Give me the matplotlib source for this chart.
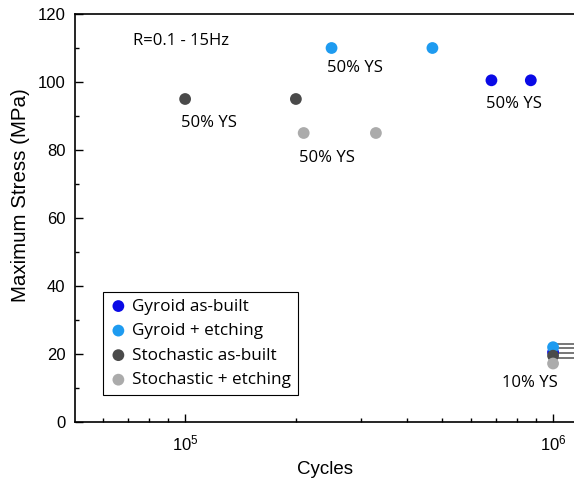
import matplotlib
matplotlib.use("Agg")
import matplotlib.pyplot as plt
from matplotlib.ticker import LogLocator, MultipleLocator, NullFormatter

# Data
series_names = ["Gyroid as-built", "Gyroid + etching", "Stochastic as-built", "Stochastic + etching"]
series_colors = ["#0a0ae6", "#1e9bf0", "#4a4a4a", "#ababab"]
gyroid_built_cycles = [6.8e5, 8.7e5, 1e6]
gyroid_built_stress = [100.5, 100.5, 20.5]
gyroid_etch_cycles = [2.5e5, 4.7e5, 1e6]
gyroid_etch_stress = [110, 110, 22]
stoch_built_cycles = [1e5, 2.0e5, 1e6]
stoch_built_stress = [95, 95, 19.5]
stoch_etch_cycles = [2.1e5, 3.3e5, 1e6]
stoch_etch_stress = [85, 85, 17.2]
runout_levels = [23.0, 21.7, 20.3, 18.8]

annotations = [
    ("50% YS", 1.16e5, 88),
    ("50% YS", 2.9e5, 104),
    ("50% YS", 7.83e5, 93.5),
    ("50% YS", 2.43e5, 77.6),
    ("10% YS", 8.65e5, 11.5),
]

plt.rcParams['font.family'] = ['Liberation Sans', 'DejaVu Sans']
ann_family = ['Open Sans', 'DejaVu Sans']

fig = plt.figure(figsize=(5.74, 4.82), dpi=100)
ax = fig.add_axes([75/574, 60/482, 1 - 75/574, (422-14)/482])

xs = [gyroid_built_cycles, gyroid_etch_cycles, stoch_built_cycles, stoch_etch_cycles]
ys = [gyroid_built_stress, gyroid_etch_stress, stoch_built_stress, stoch_etch_stress]
for x, y, c, n in zip(xs, ys, series_colors, series_names):
    ax.scatter(x, y, s=72, color=c, label=n, edgecolors='none', zorder=3)

for lv in runout_levels:
    ax.plot([1.02e6, 1.2e6], [lv, lv], color="#606060", lw=1.2, zorder=2)

ax.set_xscale('log')
ax.set_xlim(5.02e4, 1.14e6)
ax.set_ylim(0, 120)
ax.yaxis.set_major_locator(MultipleLocator(20))
ax.yaxis.set_minor_locator(MultipleLocator(10))
ax.xaxis.set_major_locator(LogLocator(base=10, numticks=10))
ax.xaxis.set_minor_locator(LogLocator(base=10, subs=range(2, 10), numticks=20))
ax.xaxis.set_minor_formatter(NullFormatter())
ax.tick_params(which='both', direction='in', labelsize=12, width=1)
ax.tick_params(which='major', length=6)
ax.tick_params(which='minor', length=3)
ax.tick_params(axis='x', pad=8)
ax.tick_params(axis='y', pad=7)
ax.spines['right'].set_visible(False)
for s in ['left', 'bottom', 'top']:
    ax.spines[s].set_linewidth(1.2)

ax.set_xlabel("Cycles", fontsize=13.5, labelpad=6)
ax.set_ylabel("Maximum Stress (MPa)", fontsize=14.8)
ax.yaxis.set_label_coords(-0.09, 0.555)

ax.text(7.2e4, 112, "R=0.1 - 15Hz", fontsize=12, family=ann_family, ha='left', va='center')
for t, x, y in annotations:
    ax.text(x, y, t, fontsize=12, family=ann_family, ha='center', va='center')

leg = ax.legend(loc='lower left', bbox_to_anchor=(28/499, 27/408), frameon=True, fancybox=False,
                edgecolor='black', framealpha=1, handletextpad=0.3, borderpad=0.4,
                labelspacing=0.5, handlelength=1.0, borderaxespad=0,
                prop={'family': ann_family, 'size': 12.3})
leg.get_frame().set_linewidth(0.8)

fig.savefig("out.png", dpi=100)
